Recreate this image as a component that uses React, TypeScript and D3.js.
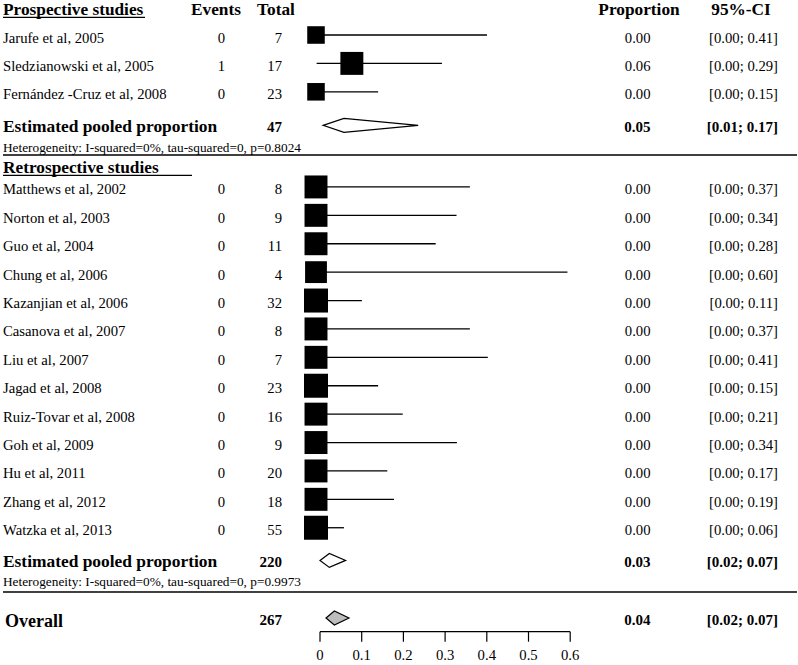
import React from "react";
import * as d3 from "d3";

// ---------- DATA ----------
const prospNames = ["Jarufe et al, 2005", "Sledzianowski et al, 2005", "Fernández -Cruz et al, 2008"];
const prospEvents = [0, 1, 0];
const prospTotal = [7, 17, 23];
const prospPropText = ["0.00", "0.06", "0.00"];
const prospCIText = ["[0.00; 0.41]", "[0.00; 0.29]", "[0.00; 0.15]"];
const prospEst = [0, 0.086, 0];
const prospLo = [0, 0.0015, 0];
const prospHi = [0.41, 0.302, 0.149];
const prospWeight = [3.1, 5.3, 3.1];

const retroNames = [
  "Matthews et al, 2002", "Norton et al, 2003", "Guo et al, 2004", "Chung et al, 2006",
  "Kazanjian et al, 2006", "Casanova et al, 2007", "Liu et al, 2007", "Jagad et al, 2008",
  "Ruiz-Tovar et al, 2008", "Goh et al, 2009", "Hu et al, 2011", "Zhang et al, 2012", "Watzka et al, 2013",
];
const retroEvents = [0, 0, 0, 0, 0, 0, 0, 0, 0, 0, 0, 0, 0];
const retroTotal = [8, 9, 11, 4, 32, 8, 7, 23, 16, 9, 20, 18, 55];
const retroPropText = ["0.00", "0.00", "0.00", "0.00", "0.00", "0.00", "0.00", "0.00", "0.00", "0.00", "0.00", "0.00", "0.00"];
const retroCIText = [
  "[0.00; 0.37]", "[0.00; 0.34]", "[0.00; 0.28]", "[0.00; 0.60]", "[0.00; 0.11]", "[0.00; 0.37]",
  "[0.00; 0.41]", "[0.00; 0.15]", "[0.00; 0.21]", "[0.00; 0.34]", "[0.00; 0.17]", "[0.00; 0.19]", "[0.00; 0.06]",
];
const retroEst = [0, 0, 0, 0, 0, 0, 0, 0, 0, 0, 0, 0, 0];
const retroLo = [0, 0, 0, 0, 0, 0, 0, 0, 0, 0, 0, 0, 0];
const retroHi = [0.369, 0.337, 0.287, 0.603, 0.11, 0.369, 0.412, 0.149, 0.208, 0.338, 0.171, 0.187, 0.067];
const retroWeight = [5.3, 5.3, 5.3, 4.8, 5.8, 5.3, 5.3, 5.8, 5.3, 5.3, 5.3, 5.3, 5.8];

// pooled: prospective, retrospective, overall
const pooledLabels = ["Estimated pooled proportion", "Estimated pooled proportion", "Overall"];
const pooledTotal = [47, 220, 267];
const pooledPropText = ["0.05", "0.03", "0.04"];
const pooledCIText = ["[0.01; 0.17]", "[0.02; 0.07]", "[0.02; 0.07]"];
const pooledEst = [0.067, 0.032, 0.044];
const pooledLo = [0.017, 0.0096, 0.024];
const pooledHi = [0.245, 0.071, 0.079];
const heterogeneityText = [
  "Heterogeneity: I-squared=0%, tau-squared=0, p=0.8024",
  "Heterogeneity: I-squared=0%, tau-squared=0, p=0.9973",
];
const axisTicks = [0, 0.1, 0.2, 0.3, 0.4, 0.5, 0.6];

// ---------- LAYOUT ----------
const W = 798;
const H = 665;
const FONT = "'Liberation Serif', 'Times New Roman', serif";

export default function App() {
  const x = d3.scaleLinear().domain([0, 0.6]).range([316, 566.2]);
  const y = d3.scaleLinear().domain([0, 1]).range([6.6, 35]); // row slot -> pixel
  const size = d3.scaleSqrt().domain([0, 5.8]).range([0, 24]);

  const prospSlots = prospNames.map((_, i) => 1 + i);
  const retroSlots = retroNames.map((_, i) => 6.35 + i);
  const pooledSlots = [4.18, 19.5, 21.53];
  const axisY = 631.7;

  const colName = 3;
  const colEvents = 225;
  const colTotal = 282;
  const colProp = 650.5;
  const colCI = 778;
  const textOff = 7.5;
  const fs = 14.7;

  const studyRow = (
    name: string, ev: number, tot: number, pt: string, ct: string,
    est: number, lo: number, hi: number, w: number, slot: number, key: string
  ) => {
    const cy = y(slot);
    const s = size(w);
    return (
      <g key={key}>
        <text x={colName} y={cy + textOff} fontSize={fs}>{name}</text>
        <text x={colEvents} y={cy + textOff} fontSize={fs} textAnchor="end">{ev}</text>
        <text x={colTotal} y={cy + textOff} fontSize={fs} textAnchor="end">{tot}</text>
        <line x1={x(lo)} x2={x(hi)} y1={cy} y2={cy} stroke="#000" strokeWidth={1.3} />
        <rect x={x(est) - s / 2} y={cy - s / 2} width={s} height={s} fill="#000" />
        <text x={colProp} y={cy + textOff} fontSize={fs} textAnchor="end">{pt}</text>
        <text x={colCI} y={cy + textOff} fontSize={fs} textAnchor="end">{ct}</text>
      </g>
    );
  };

  const diamond = (i: number) => {
    const cy = y(pooledSlots[i]);
    const h = 7;
    const pts = [
      [x(pooledLo[i]), cy], [x(pooledEst[i]), cy - h], [x(pooledHi[i]), cy], [x(pooledEst[i]), cy + h],
    ];
    return (
      <polygon
        points={pts.map((p) => p.join(",")).join(" ")}
        fill={i === 2 ? "#bdbdbd" : "#fff"}
        stroke="#000"
        strokeWidth={1.2}
      />
    );
  };

  const pooledRow = (i: number) => {
    const cy = y(pooledSlots[i]);
    const isOverall = i === 2;
    return (
      <g key={"pooled" + i} fontWeight="bold">
        <text x={isOverall ? 5 : colName} y={cy + (isOverall ? 9 : 6.5)} fontSize={isOverall ? 18 : 17.4}>
          {pooledLabels[i]}
        </text>
        <text x={colTotal} y={cy + 6.5} fontSize={15} textAnchor="end">{pooledTotal[i]}</text>
        {diamond(i)}
        <text x={colProp} y={cy + 6.5} fontSize={15} textAnchor="end">{pooledPropText[i]}</text>
        <text x={colCI} y={cy + 6.5} fontSize={15} textAnchor="end">{pooledCIText[i]}</text>
      </g>
    );
  };

  const axisOffset = 4;

  return (
    <svg
      width={W}
      height={H}
      style={{ position: "absolute", left: 0, top: 0, background: "#fff" }}
      fontFamily={FONT}
      fill="#000"
    >
      <rect x={0} y={0} width={W} height={H} fill="#fff" />
      {/* headers */}
      <g fontWeight="bold" fontSize={17.3}>
        <text x={colName} y={15}>Prospective studies</text>
        <line x1={3} x2={145} y1={17.3} y2={17.3} stroke="#000" strokeWidth={1.3} />
        <text x={216} y={15} textAnchor="middle">Events</text>
        <text x={276} y={15} textAnchor="middle">Total</text>
        <text x={639} y={15} textAnchor="middle">Proportion</text>
        <text x={741} y={15} textAnchor="middle">95%-CI</text>
        <text x={colName} y={172.5}>Retrospective studies</text>
        <line x1={3} x2={192} y1={175.3} y2={175.3} stroke="#000" strokeWidth={1.3} />
      </g>

      {prospNames.map((n, i) =>
        studyRow(n, prospEvents[i], prospTotal[i], prospPropText[i], prospCIText[i],
          prospEst[i], prospLo[i], prospHi[i], prospWeight[i], prospSlots[i], "p" + i)
      )}
      {pooledRow(0)}
      <text x={colName} y={151.5} fontSize={13.3}>{heterogeneityText[0]}</text>
      <line x1={3} x2={797} y1={155} y2={155} stroke="#000" strokeWidth={1.5} />

      {retroNames.map((n, i) =>
        studyRow(n, retroEvents[i], retroTotal[i], retroPropText[i], retroCIText[i],
          retroEst[i], retroLo[i], retroHi[i], retroWeight[i], retroSlots[i], "r" + i)
      )}
      {pooledRow(1)}
      <text x={colName} y={585.5} fontSize={13.3}>{heterogeneityText[1]}</text>
      <line x1={3} x2={797} y1={592} y2={592} stroke="#000" strokeWidth={1.5} />

      {pooledRow(2)}

      {/* axis */}
      <g transform={`translate(${axisOffset},0)`}>
        <line x1={x(0)} x2={x(0.6)} y1={axisY} y2={axisY} stroke="#000" strokeWidth={1.2} />
        {axisTicks.map((t) => (
          <g key={t}>
            <line x1={x(t)} x2={x(t)} y1={axisY} y2={axisY + 10} stroke="#000" strokeWidth={1.2} />
            <text x={x(t)} y={axisY + 28.5} fontSize={fs} textAnchor="middle">{String(t)}</text>
          </g>
        ))}
      </g>
    </svg>
  );
}
